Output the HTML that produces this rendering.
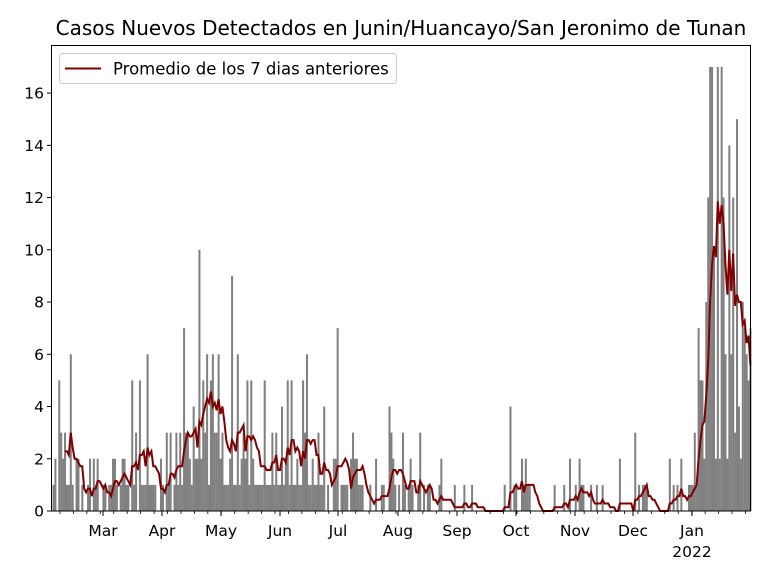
<!DOCTYPE html>
<html><head><meta charset="utf-8"><style>
body{margin:0;background:#fff;}
svg text{font-family:"DejaVu Sans","Liberation Sans",sans-serif;}
</style></head><body>
<svg id="s" width="768" height="576" xmlns="http://www.w3.org/2000/svg"></svg>
<script>
const months=[
[1,2,0,5,3,2,3,1,1,6,1,0,2,2,0,1,0,0,1,2,0,2,1,2,0,0,1],
[1,0,1,1,2,2,1,0,1,2,2,1,1,0,5,1,3,0,5,1,1,1,6,1,1,1,1,0,0,2,1],
[0,3,1,3,0,1,3,1,3,1,7,3,3,2,1,4,2,2,10,2,5,3,6,1,5,6,3,3,6,2],
[3,1,1,1,2,9,1,1,6,1,2,3,2,5,1,5,2,1,1,1,1,1,5,1,1,1,3,1,3,1,1],
[4,1,2,5,1,5,1,1,2,1,1,5,3,6,1,1,2,1,1,3,1,1,4,0,1,0,0,2,2,7],
[0,1,1,1,1,0,2,3,2,2,1,1,1,0,0,0,1,0,0,2,0,0,1,1,0,0,4,3,2,1,0],
[1,0,3,1,0,1,2,1,0,0,1,3,0,1,0,1,1,0,0,0,0,1,2,0,0,0,0,0,0,1,0],
[0,0,0,1,0,0,0,1,0,0,0,0,0,0,0,0,0,0,0,0,0,0,0,0,1,0,0,4,0,1],
[1,0,0,2,1,2,1,1,0,0,0,0,0,0,0,0,0,0,0,0,1,0,0,0,0,1,0,0,2,0,0],
[1,0,2,1,1,0,0,0,1,0,0,1,0,0,1,0,0,0,0,0,0,0,0,2,0,0,0,0,0,0],
[0,3,0,1,0,1,1,1,0,0,0,0,0,0,0,0,0,0,0,2,0,1,0,1,0,2,0,0,0,1,1],
[1,3,1,7,5,5,2,8,12,17,17,10,2,17,2,17,12,6,2,14,6,12,3,15,4,2,8,7,6,5,7]];
const d=[].concat(...months);
const X0=52.5, dx=1.92, Y0=511, sy=26.12;
let h='';
const x=i=>X0+i*dx;
d.forEach((v,i)=>{if(v>0)h+=`<rect x="${x(i).toFixed(2)}" y="${Y0-v*sy}" width="${dx+0.1}" height="${v*sy}" fill="#808080"/>`;});
let pts=[];
for(let i=6;i<d.length;i++){let s=0;for(let k=i-6;k<=i;k++)s+=d[k];pts.push(`${(x(i)+dx/2).toFixed(2)},${(Y0-s/7*sy).toFixed(2)}`);}
h+=`<polyline points="${pts.join(' ')}" fill="none" stroke="#800000" stroke-width="2"/>`;
h+=`<rect x="51.5" y="45.5" width="699" height="465.5" fill="none" stroke="#000" stroke-width="1"/>`;
for(let v=0;v<=16;v+=2){let y=Y0-v*sy;h+=`<line x1="47" x2="51.5" y1="${y}" y2="${y}" stroke="#000"/><text x="44" y="${y+5.5}" font-size="15.5" text-anchor="end">${v}</text>`;}
const ml=[['Mar',103],['Apr',162],['May',221],['Jun',280],['Jul',338],['Aug',398],['Sep',457],['Oct',516],['Nov',575],['Dec',633],['Jan',692]];
ml.forEach(([t,xx])=>{h+=`<line x1="${xx}" x2="${xx}" y1="511" y2="516" stroke="#000"/><text x="${xx}" y="536" font-size="15.5" text-anchor="middle">${t}</text>`;});
h+=`<text x="692" y="557" font-size="15.5" text-anchor="middle">2022</text>`;
for(let xx=60;xx<750;xx+=7*dx){h+=`<line x1="${xx}" x2="${xx}" y1="511" y2="514" stroke="#000" stroke-width="0.8"/>`;}
h+=`<text x="401" y="35" font-size="20" text-anchor="middle">Casos Nuevos Detectados en Junin/Huancayo/San Jeronimo de Tunan</text>`;
h+=`<rect x="59.5" y="53.5" width="337" height="30" rx="3" fill="#fff" fill-opacity="0.8" stroke="#ccc"/>`;
h+=`<line x1="65" x2="101" y1="68.5" y2="68.5" stroke="#800000" stroke-width="2"/><text x="113" y="74.5" font-size="16.5">Promedio de los 7 dias anteriores</text>`;
document.getElementById('s').innerHTML=h;
</script>
</body></html>
